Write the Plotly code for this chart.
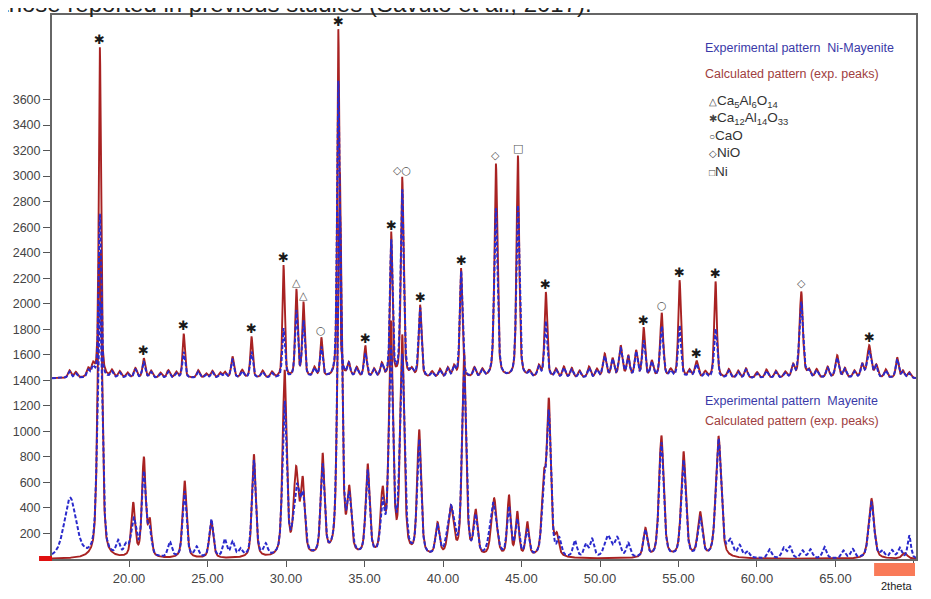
import numpy as np
import plotly.graph_objects as go

# ---------------- data ----------------
# Ni-Mayenite (upper pattern), calculated (red): peak position (2theta), apex, FWHM
top_calc_pos = [18.14, 20.94, 23.48, 26.59, 27.80, 29.84, 30.66, 31.11, 32.25, 33.33,
                35.05, 36.70, 37.40, 38.54, 41.15, 43.37, 44.77, 46.55, 50.30, 51.32,
                52.78, 53.93, 55.07, 56.15, 57.36, 62.82, 65.11, 67.15, 68.93]
top_calc_apex = [4005, 1567, 1762, 1583, 1739, 2294, 2098, 1997, 1723, 4145,
                 1661, 2544, 2981, 1981, 2270, 3091, 3153, 2083, 1600, 1661,
                 1802, 1919, 2177, 1544, 2170, 2090, 1591, 1667, 1575]
top_calc_fwhm = [0.16, 0.2, 0.18, 0.2, 0.18, 0.17, 0.18, 0.18, 0.18, 0.16,
                 0.2, 0.17, 0.2, 0.2, 0.18, 0.22, 0.2, 0.2, 0.25, 0.25,
                 0.2, 0.22, 0.2, 0.25, 0.2, 0.25, 0.25, 0.3, 0.2]
# experimental (blue) apex values at the same peaks
top_exp_apex = [2700, 1540, 1620, 1560, 1620, 1800, 1934, 1850, 1650, 3740,
                1600, 2480, 2880, 1955, 2246, 2740, 2762, 1856, 1580, 1640,
                1700, 1816, 1823, 1520, 1800, 2010, 1570, 1620, 1560]
# small bumps on the upper baseline
top_ripple_pos = [16.2, 16.6, 17.4, 17.7, 18.9, 19.4, 19.9, 20.4, 21.4, 22.0, 22.5, 23.0,
                  24.4, 24.9, 25.3, 25.8, 26.1, 27.2, 28.5, 29.1, 31.8, 34.0, 34.5, 35.6,
                  36.1, 38.0, 39.3, 39.8, 40.3, 40.7, 42.0, 42.5, 45.5, 46.1, 47.2, 47.7,
                  48.2, 48.7, 49.3, 49.8, 50.8, 51.8, 52.3, 53.3, 54.5, 55.7, 56.7, 58.2,
                  58.8, 59.3, 60.0, 60.6, 61.2, 61.8, 62.3, 63.3, 63.8, 64.5, 65.6, 66.2,
                  66.7, 67.6, 68.2, 69.3, 69.7]
top_ripple_apex = [1475, 1460, 1480, 1500, 1470, 1465, 1455, 1490, 1470, 1455, 1475, 1460,
                   1475, 1450, 1470, 1455, 1460, 1475, 1470, 1460, 1490, 1520, 1490, 1480,
                   1520, 1470, 1460, 1480, 1490, 1500, 1490, 1475, 1460, 1500, 1480, 1500,
                   1490, 1470, 1500, 1480, 1560, 1580, 1620, 1540, 1470, 1470, 1460, 1480,
                   1470, 1490, 1460, 1480, 1470, 1460, 1510, 1470, 1480, 1500, 1490, 1470,
                   1520, 1510, 1480, 1470, 1460]
top_baseline = 1415

# Mayenite (lower pattern), calculated (red)
bot_calc_pos = [18.14, 20.26, 20.94, 21.32, 23.54, 25.24, 27.95, 29.91, 30.64, 31.06,
                32.33, 33.42, 34.03, 35.20, 36.15, 36.68, 37.40, 38.48, 39.65, 40.50,
                41.34, 42.08, 43.25, 44.20, 44.73, 45.37, 46.42, 46.74, 47.25, 52.89,
                53.91, 55.32, 56.38, 57.55, 67.29, 69.41]
bot_calc_apex = [2400, 420, 773, 265, 606, 293, 809, 1450, 655, 567,
                 786, 3000, 473, 708, 473, 1800, 1700, 981, 255, 382,
                 1600, 343, 460, 473, 343, 265, 552, 1189, 148, 226,
                 955, 825, 343, 955, 473, 44]
bot_calc_fwhm = [0.32, 0.3, 0.28, 0.25, 0.3, 0.3, 0.28, 0.3, 0.35, 0.3,
                 0.28, 0.3, 0.3, 0.3, 0.3, 0.3, 0.3, 0.3, 0.3, 0.4,
                 0.3, 0.3, 0.4, 0.25, 0.25, 0.25, 0.3, 0.3, 0.3, 0.3,
                 0.35, 0.35, 0.35, 0.4, 0.4, 0.4]
# Mayenite experimental (blue)
bot_exp_pos = [16.25, 18.14, 19.3, 19.8, 20.3, 20.94, 21.3, 22.6, 23.54, 24.3, 25.24, 26.1,
               26.6, 27.1, 27.95, 28.7, 29.91, 30.7, 31.1, 32.33, 33.42, 34.03, 35.2, 36.15,
               36.68, 37.40, 38.48, 39.65, 40.5, 41.34, 42.08, 43.2, 44.2, 44.73, 45.37, 46.42,
               46.74, 47.4, 48.4, 49.1, 49.5, 50.5, 51.1, 51.8, 52.89, 53.91, 55.32, 56.38,
               57.55, 58.3, 58.9, 59.4, 60.8, 61.7, 62.1, 62.9, 63.4, 64.3, 65.5, 66.1,
               67.29, 68.0, 68.6, 69.1, 69.7]
bot_exp_apex = [470, 2000, 110, 80, 290, 650, 200, 120, 520, 80, 300, 140,
                120, 60, 760, 90, 1200, 530, 380, 700, 2700, 420, 660, 380,
                1600, 1550, 900, 230, 380, 1450, 300, 420, 380, 280, 200, 500,
                1100, 130, 130, 100, 140, 170, 150, 110, 210, 900, 760, 300,
                930, 120, 90, 50, 70, 80, 90, 60, 70, 90, 60, 70,
                440, 50, 60, 80, 180]
bot_exp_fwhm = [0.9, 0.35, 0.3, 0.3, 0.4, 0.3, 0.3, 0.3, 0.3, 0.3, 0.3, 0.3,
                0.3, 0.3, 0.3, 0.3, 0.32, 0.5, 0.3, 0.3, 0.32, 0.35, 0.3, 0.3,
                0.32, 0.35, 0.3, 0.3, 0.5, 0.32, 0.3, 0.5, 0.3, 0.3, 0.3, 0.3,
                0.32, 0.3, 0.3, 0.3, 0.3, 0.5, 0.4, 0.3, 0.3, 0.35, 0.35, 0.35,
                0.4, 0.4, 0.3, 0.3, 0.3, 0.3, 0.3, 0.3, 0.3, 0.3, 0.3, 0.3,
                0.4, 0.3, 0.3, 0.3, 0.25]

# phase markers over the upper pattern: (2theta, symbol)
marker_pos = [18.14, 20.94, 23.48, 27.80, 29.84, 30.66, 31.11, 32.25, 33.33, 35.05,
              36.70, 37.40, 38.54, 41.15, 43.37, 44.77, 46.55, 52.78, 53.93, 55.07,
              56.15, 57.36, 62.82, 67.15]
marker_sym = ["*", "*", "*", "*", "*", "△", "△", "○", "*", "*",
              "*", "◇○", "*", "*", "◇", "□", "*", "*", "○", "*",
              "*", "*", "◇", "*"]

x_ticks = [20, 25, 30, 35, 40, 45, 50, 55, 60, 65, 70]
y_ticks = list(range(200, 3601, 200))

# ---------------- build profiles ----------------
grid = np.arange(15.09, 70.131, 0.01)


def pv(x0, w):
    d = (grid - x0) / w
    return 0.5 / (1 + 4 * d * d) + 0.5 * np.exp(-4 * np.log(2) * d * d)


def pattern(pos, apex, fwhm, base):
    y = np.full_like(grid, float(base))
    for p, a, w in zip(pos, apex, fwhm):
        y += (a - base) * pv(p, w)
    return y


top_calc = pattern(top_calc_pos + top_ripple_pos, top_calc_apex + top_ripple_apex,
                   top_calc_fwhm + [0.22] * len(top_ripple_pos), top_baseline)
top_exp = pattern(top_calc_pos + top_ripple_pos,
                  top_exp_apex + [a - 10 for a in top_ripple_apex],
                  [w * 1.15 for w in top_calc_fwhm] + [0.22] * len(top_ripple_pos),
                  top_baseline)
bot_calc = pattern(bot_calc_pos, bot_calc_apex, bot_calc_fwhm, 0)
bot_exp = pattern(bot_exp_pos, bot_exp_apex, bot_exp_fwhm, 0)

RED = "#a82222"
BLUE = "#2a2acc"

fig = go.Figure()
fig.add_trace(go.Scatter(x=grid, y=bot_calc, mode="lines", line=dict(color=RED, width=1.9)))
fig.add_trace(go.Scatter(x=grid, y=top_calc, mode="lines", line=dict(color=RED, width=1.9)))
fig.add_trace(go.Scatter(x=grid, y=bot_exp, mode="lines",
                         line=dict(color=BLUE, width=2, dash="4px,2px")))
fig.add_trace(go.Scatter(x=grid, y=top_exp, mode="lines",
                         line=dict(color=BLUE, width=2, dash="4px,2px")))

# the page body has an 8px margin; figure sized to fit the window
OFF = 8
W, H = 915, 583
L, T = 44, 6
PW, PH = 866, 547
R = W - L - PW
B = H - T - PH


def px(xp):
    return (xp - OFF - L) / PW


def py(yp):
    return (T + PH - (yp - OFF)) / PH


ann = []
apex_lookup = dict(zip(top_calc_pos, top_calc_apex))
for p, s in zip(marker_pos, marker_sym):
    if s == "*":
        ann.append(dict(x=p, y=apex_lookup[p], xref="x", yref="y", text="✱",
                        showarrow=False, yanchor="bottom", yshift=-1,
                        font=dict(size=13, color="#1a1a1a", family="DejaVu Sans")))
    else:
        ann.append(dict(x=p, y=apex_lookup[p], xref="x", yref="y", text=s,
                        showarrow=False, yanchor="bottom", yshift=0,
                        font=dict(size=11, color="#555555", family="DejaVu Sans")))


def txt(x, y, t, color, size=12.5, anchor="left", family="Arial"):
    ann.append(dict(x=px(x), y=py(y), xref="paper", yref="paper", text=t, showarrow=False,
                    xanchor=anchor, yanchor="middle",
                    font=dict(size=size, color=color, family=family)))


txt(705, 47, "Experimental pattern  Ni-Mayenite", "#3a3aa8")
txt(705, 73, "Calculated pattern (exp. peaks)", "#a04040")
sym = '<span style="font-size:10px;color:#444444">%s</span>'
txt(709, 101, sym % "△" + "Ca<sub>5</sub>Al<sub>6</sub>O<sub>14</sub>", "#333333", 13.5)
txt(709, 118, sym % "✱" + "Ca<sub>12</sub>Al<sub>14</sub>O<sub>33</sub>", "#333333", 13.5)
txt(709, 135, sym % "○" + "CaO", "#333333", 13.5)
txt(709, 152, sym % "◇" + "NiO", "#333333", 13.5)
txt(709, 171, sym % "□" + "Ni", "#333333", 13.5)
txt(705, 402, "Experimental pattern  Mayenite", "#3a3aa8")
txt(705, 422, "Calculated pattern (exp. peaks)", "#a04040")
txt(898, 588, "2theta", "#222222", 11, anchor="center")

# cut-off caption line at the very top of the page
ann.append(dict(x=px(0), y=py(18), xref="paper", yref="paper",
                text="those reported in previous studies (Savuto et al., 2017).",
                showarrow=False, xanchor="left", yanchor="bottom",
                font=dict(size=24, color="#222222", family="Arial")))

shapes = [
    dict(type="rect", xref="paper", yref="paper", x0=px(39), x1=px(52), y0=py(563), y1=py(558),
         fillcolor="#e01010", line=dict(width=0)),
    dict(type="rect", xref="paper", yref="paper", x0=px(876), x1=px(917), y0=py(578), y1=py(565),
         fillcolor="#f97a58", line=dict(width=0)),
]

fig.update_layout(
    width=W, height=H, margin=dict(l=L, r=R, t=T, b=B),
    paper_bgcolor="white", plot_bgcolor="white", showlegend=False,
    annotations=ann, shapes=shapes,
    xaxis=dict(range=[15.09, 70.13], tickvals=x_ticks, ticktext=["%.2f" % v for v in x_ticks],
               showgrid=False, zeroline=False, showline=True, linecolor="#666666", linewidth=2,
               mirror=True, ticks="outside", ticklen=6, tickcolor="#555555",
               tickfont=dict(size=13, color="#444444", family="Arial")),
    yaxis=dict(range=[0, 4262], tickvals=y_ticks, showgrid=False, zeroline=False, showline=True,
               linecolor="#666666", linewidth=2, mirror=True, ticks="outside", ticklen=7,
               tickcolor="#555555", tickfont=dict(size=12.5, color="#444444", family="Arial")),
)

fig.write_html("out.html")
